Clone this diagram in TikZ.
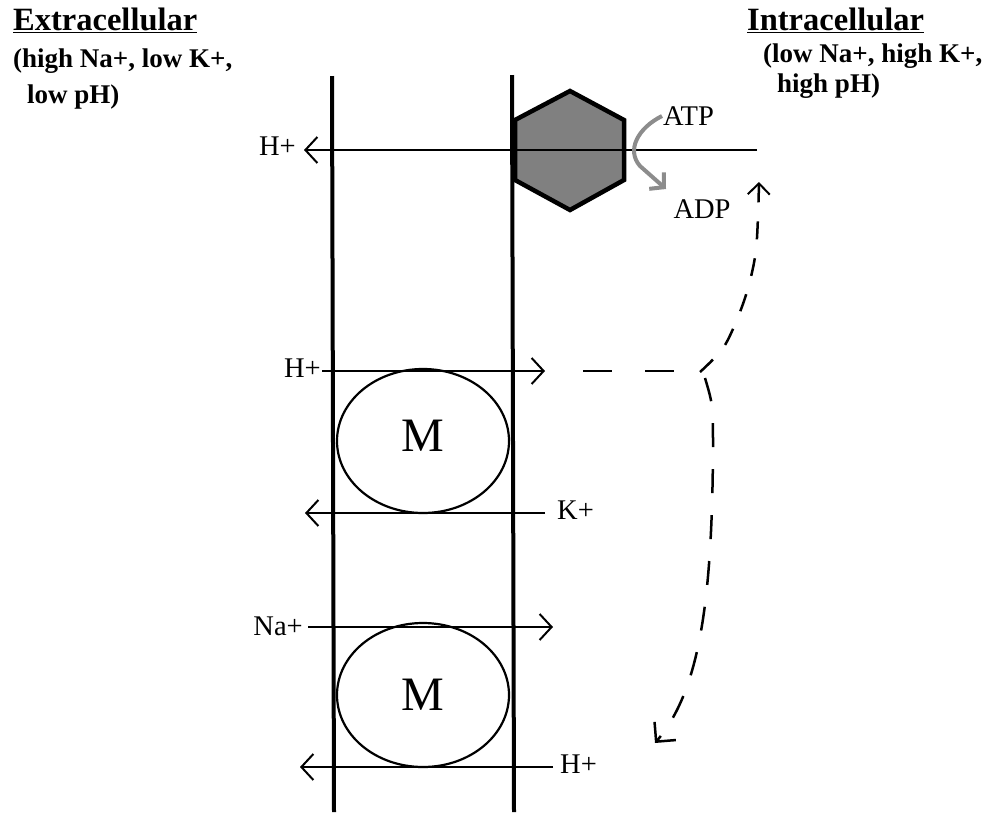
\documentclass[tikz,border=0pt]{standalone}
\usepackage{fontspec}
\setmainfont{Liberation Serif}
\usetikzlibrary{arrows.meta,shapes.geometric}
\begin{document}
\begin{tikzpicture}[x=1pt,y=-1pt,
  membrane/.style={line width=4pt},
  ion/.style={line width=2pt,-{Straight Barb[length=12pt,width=26pt,line width=2pt]}},
  lab/.style={font=\fontsize{28.5}{30}\selectfont, inner ysep=1pt, inner xsep=0pt},
  title/.style={font=\fontsize{32.5}{34}\selectfont\bfseries, inner sep=0pt, anchor=base west},
  sub/.style={font=\fontsize{27}{29}\selectfont\bfseries, inner sep=0pt, anchor=base west},
  carrier/.style={ellipse, draw, line width=2.2pt, minimum width=172pt, minimum height=144pt, inner sep=0pt, font=\fontsize{48}{50}\selectfont},
  pumpstyle/.style={fill=black!50, draw=black, line width=4.5pt, line join=miter},
  flow/.style={line width=2.5pt},
  grayarrow/.style={draw=black!45, line width=4pt, -{Straight Barb[length=10pt,width=22pt,line width=4pt]}}
]
\useasboundingbox (0,0) rectangle (985,812);

% titles
\node[title] (ext) at (13,30) {\underline{Extracellular}};
\node[sub] (ext1) at (13,67) {(high Na+, low K+,};
\node[sub] (ext2) at (27,103) {low pH)};
\node[title] (int) at (747,30) {\underline{Intracellular}};
\node[sub] (int1) at (763,62) {(low Na+, high K+,};
\node[sub] (int2) at (777,92) {high pH)};

% pump
\draw[pumpstyle] (570,91) -- (624,120) -- (624,180) -- (570,210) -- (515,180) -- (515,120) -- cycle;

% membranes
\coordinate (lt) at (332,76);
\coordinate (lb) at (334,812);
\coordinate (rt) at (512,75);
\coordinate (rb) at (514,812);
\draw[membrane] (lt) -- (lb);
\draw[membrane] (rt) -- (rb);

% top H+ through pump
\node[lab, anchor=east, inner xsep=8pt] (h1) at (304,146) {H+};
\coordinate (c1) at (757,150);
\draw[ion] (c1) -- (c1 -| h1.east);

% ATP / ADP
\node[lab, anchor=west, inner xsep=1pt] (atp) at (662,116) {ATP};
\node[lab] (adp) at (702,209) {ADP};
\coordinate (adpt) at (666,189);
\draw[grayarrow] (atp.west) .. controls (638,128) and (626,150) .. (640,166) -- (adpt);

% carriers
\node[carrier] (m1) at (423,441) {\raisebox{10pt}{M}};
\node[carrier] (m2) at (423,695) {\raisebox{-7pt}{M}};

% ion arrows
\node[lab, anchor=east, inner xsep=1pt] (h2) at (322,368) {H+};
\coordinate (t2) at (545,371);
\draw[ion] (h2.east |- t2) -- (t2);

\node[lab, anchor=west, inner xsep=12pt] (kp) at (545,510) {K+};
\coordinate (t3) at (305,513);
\draw[ion] (kp.west |- t3) -- (t3);

\node[lab, anchor=east, inner xsep=5pt] (na) at (308,626) {Na+};
\coordinate (t4) at (553,627);
\draw[ion] (na.east |- t4) -- (t4);

\node[lab, anchor=west, inner xsep=7pt] (h4) at (553,764) {H+};
\coordinate (t5) at (300,767);
\draw[ion] (h4.west |- t5) -- (t5);

% dashed flows
\coordinate (hs) at (583,371);
\coordinate (he) at (674,371);
\coordinate (j1) at (700,372);
\coordinate (j2) at (705,378);
\coordinate (up) at (759,182);
\coordinate (dn) at (655,743);
\draw[flow, dash pattern=on 29pt off 33pt] (hs) -- (he);
\draw[flow, dash pattern=on 18pt off 19pt, -{Straight Barb[length=11pt,width=22pt,line width=2pt]}]
  plot[smooth] coordinates {(j1) (725,345) (745,298) (756,250) (up)};
\draw[flow, dash pattern=on 24pt off 22pt, -{Straight Barb[length=14pt,width=28pt,line width=2.5pt]}]
  (j2) .. controls (713,405) .. (713,450) .. controls (712,600) and (700,690) .. (dn);
\end{tikzpicture}
\end{document}
